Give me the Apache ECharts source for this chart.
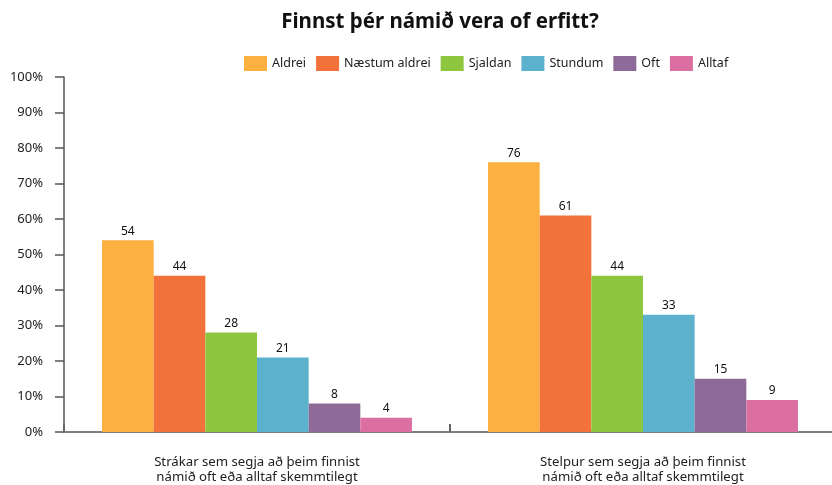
<!DOCTYPE html>
<html>
<head>
<meta charset="utf-8">
<script src="https://cdn.jsdelivr.net/npm/echarts@6/dist/echarts.min.js"></script>
<style>
  html, body { margin: 0; padding: 0; background: #ffffff; overflow: hidden; }
  #wrap { width: 832px; height: 485px; overflow: hidden; }
  /* the plot runs a few pixels past the right edge, so the drawing surface is slightly wider */
  #chart { width: 836px; height: 485px; }
</style>
</head>
<body>
<div id="wrap"><div id="chart"></div></div>
<script>
// Survey groups along the x axis
const categories = [
  'Strákar sem segja að þeim finnist\nnámið oft eða alltaf skemmtilegt',
  'Stelpur sem segja að þeim finnist\nnámið oft eða alltaf skemmtilegt'
];

// Answer options (legend order)
const seriesNames = ['Aldrei', 'Næstum aldrei', 'Sjaldan', 'Stundum', 'Oft', 'Alltaf'];

// Percentages per answer, one value per group
const aldrei = [54, 76];
const naestumAldrei = [44, 61];
const sjaldan = [28, 44];
const stundum = [21, 33];
const oft = [8, 15];
const alltaf = [4, 9];

// Y axis tick values (percent)
const yTicks = [0, 10, 20, 30, 40, 50, 60, 70, 80, 90, 100];

const seriesValues = [aldrei, naestumAldrei, sjaldan, stundum, oft, alltaf];
const colors = ['#FBB040', '#F3713B', '#8EC63F', '#5CB1CC', '#8E6A98', '#DB6FA2'];

const font = "'Noto Sans', 'DejaVu Sans', sans-serif";

const chart = echarts.init(document.getElementById('chart'), null, { renderer: 'canvas' });

chart.setOption({
  animation: false,
  backgroundColor: '#ffffff',
  color: colors,
  title: {
    text: 'Finnst þér námið vera of erfitt?',
    left: 435,
    textAlign: 'center',
    top: 7,
    textStyle: { fontFamily: font, fontWeight: 'bold', fontSize: 20.5, color: '#111' }
  },
  legend: {
    data: seriesNames,
    top: 51,
    left: 239,
    itemWidth: 23,
    itemHeight: 15,
    itemGap: 10,
    icon: 'rect',
    textStyle: { fontFamily: font, fontSize: 12.5, color: '#222' }
  },
  grid: {
    left: 64,
    top: 77,
    right: 0,
    height: 355,
    containLabel: false
  },
  xAxis: {
    type: 'category',
    data: categories,
    axisLine: { lineStyle: { color: '#555', width: 1.5 } },
    axisTick: { show: true, inside: true, length: 8, lineStyle: { color: '#666', width: 2 } },
    axisLabel: {
      fontFamily: font, fontSize: 13.2, color: '#222', lineHeight: 15, margin: 23
    },
    splitLine: { show: false }
  },
  yAxis: {
    type: 'value',
    min: yTicks[0],
    max: yTicks[yTicks.length - 1],
    interval: 10,
    axisLine: { show: true, lineStyle: { color: '#555', width: 1.5 } },
    axisTick: { show: true, length: 9, lineStyle: { color: '#555', width: 1.5 } },
    axisLabel: {
      formatter: '{value}%',
      fontFamily: font, fontSize: 13, color: '#222', margin: 21
    },
    splitLine: { show: false }
  },
  series: seriesNames.map((name, i) => ({
    name: name,
    type: 'bar',
    data: seriesValues[i],
    barGap: '0%',
    barCategoryGap: '19.7%',
    label: {
      show: true,
      position: 'top',
      distance: 3,
      fontFamily: font,
      fontSize: 12,
      color: '#111'
    }
  }))
});
</script>
</body>
</html>
